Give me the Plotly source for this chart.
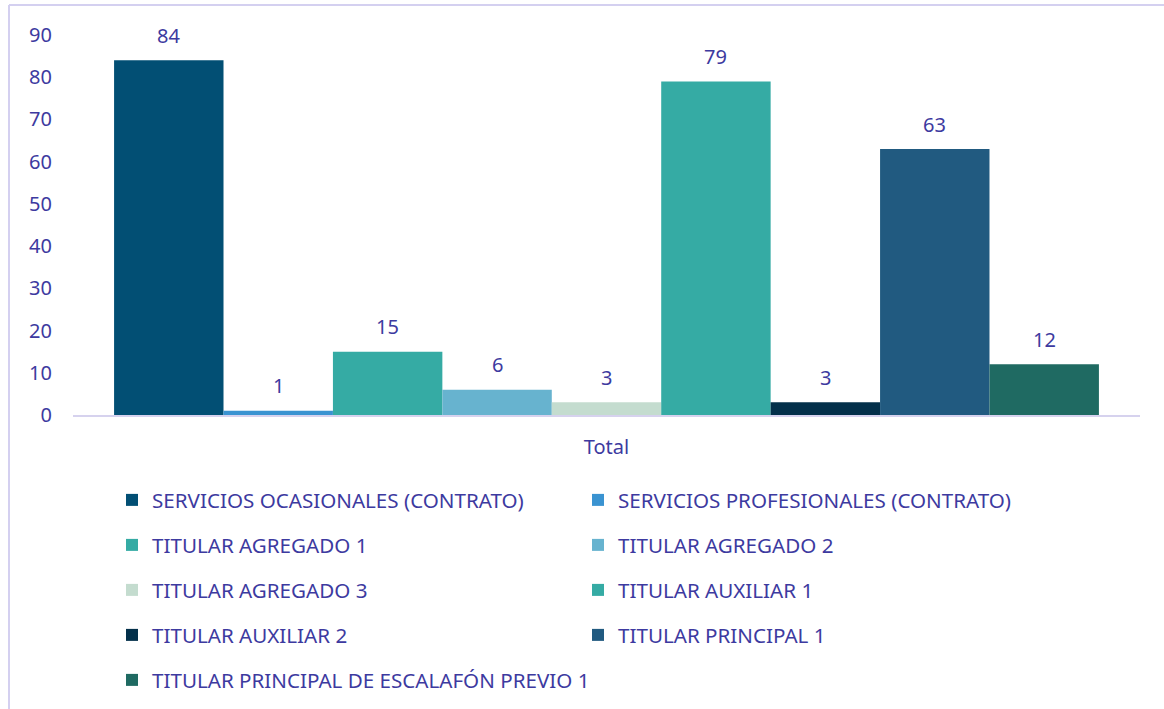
import plotly.graph_objects as go

categories = ["Total"]
series_names = [
    "SERVICIOS OCASIONALES (CONTRATO)",
    "SERVICIOS PROFESIONALES (CONTRATO)",
    "TITULAR AGREGADO 1",
    "TITULAR AGREGADO 2",
    "TITULAR AGREGADO 3",
    "TITULAR AUXILIAR 1",
    "TITULAR AUXILIAR 2",
    "TITULAR PRINCIPAL 1",
    "TITULAR PRINCIPAL DE ESCALAFÓN PREVIO 1",
]
series_values = [84, 1, 15, 6, 3, 79, 3, 63, 12]
colors = ["#024f74", "#3a93d1", "#35aba4", "#67b3cf", "#c4dccf",
          "#35aba4", "#03304a", "#215a80", "#1f6a62"]
y_ticks = [0, 10, 20, 30, 40, 50, 60, 70, 80, 90]

W, H = 1164, 709
L, R, T, B = 73, 24, 35, 294
pw, ph = W - L - R, H - T - B
TXT = "#3d3aa0"
FONT = "Noto Sans"
bargap = 0.077

def px2x(px):
    return (px - L) / pw

def py2y(py):
    return (H - B - py) / ph

fig = go.Figure()
legend_names = ["legend", "legend2", "legend3", "legend4", "legend5"]
for i, (name, val, col) in enumerate(zip(series_names, series_values, colors)):
    fig.add_trace(go.Bar(
        x=categories, y=[val], name=name,
        marker=dict(color=col, line=dict(width=0)),
        legend=legend_names[i // 2],
        hoverinfo="skip",
    ))

n = len(series_values)
bw = (1 - bargap) / n
for i, val in enumerate(series_values):
    xc = -(1 - bargap) / 2 + (i + 0.5) * bw
    fig.add_annotation(x=xc, y=val, xref="x", yref="y", text=str(val),
                       showarrow=False, yshift=25, yanchor="middle",
                       font=dict(family=FONT, size=20, color=TXT))

row_py = [500, 545, 590, 635, 680]
layout_legends = {}
for k, ln in enumerate(legend_names):
    lg = dict(
        orientation="h", x=px2x(112), xanchor="left",
        y=py2y(row_py[k]), yanchor="middle",
        font=dict(family=FONT, size=20.6, color=TXT),
        bgcolor="rgba(0,0,0,0)", borderwidth=0,
        traceorder="normal",
    )
    if k < len(legend_names) - 1:
        lg.update(entrywidth=421, entrywidthmode="pixels")
    layout_legends[ln] = lg

fig.update_layout(
    width=W, height=H,
    margin=dict(l=L, r=R, t=T, b=B, autoexpand=False),
    paper_bgcolor="white", plot_bgcolor="white",
    barmode="group", bargap=bargap, bargroupgap=0,
    showlegend=True,
    font=dict(family=FONT, size=20, color=TXT),
    xaxis=dict(
        showline=True, linecolor="#d6d2ee", linewidth=2,
        showgrid=False, zeroline=False,
        ticks="outside", ticklen=13, tickcolor="rgba(0,0,0,0)",
        tickfont=dict(family=FONT, size=20, color=TXT),
        range=[-0.5, 0.5],
    ),
    yaxis=dict(
        range=[0, 90], tickvals=y_ticks,
        showline=False, showgrid=False, zeroline=False,
        ticklabelstandoff=20,
        tickfont=dict(family=FONT, size=20, color=TXT),
    ),
    shapes=[
        dict(type="line", xref="paper", yref="paper",
             x0=px2x(9), x1=px2x(W + 5), y0=py2y(5), y1=py2y(5),
             line=dict(color="#d4d0f0", width=2)),
        dict(type="line", xref="paper", yref="paper",
             x0=px2x(9), x1=px2x(9), y0=py2y(5), y1=py2y(H + 5),
             line=dict(color="#d4d0f0", width=2)),
    ],
    **layout_legends,
)

fig.write_html(
    "out.html",
    config={"displayModeBar": False},
    post_script="document.body.style.margin='0';document.body.style.overflow='hidden';",
)
